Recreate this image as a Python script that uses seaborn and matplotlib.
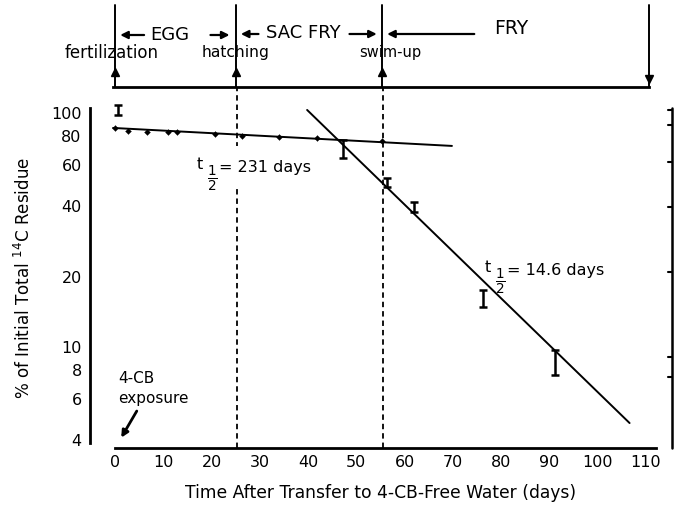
import numpy as np
import pandas as pd
import matplotlib
matplotlib.use("Agg")
import matplotlib.pyplot as plt
import seaborn as sns

# ---------------- data ----------------
# error-bar measurements (day, mean %, lower, upper)
eb_days = [0.6, 47.2, 56.3, 61.9, 76.2, 91.1]
eb_mean = [103, 70, 50.5, 39.6, 16.1, 8.6]
eb_low = [98, 64.2, 48.3, 37.7, 14.8, 7.6]
eb_high = [108, 76.7, 52.8, 41.7, 17.5, 9.7]

# small dots along slow phase
dot_days = [0, 2.7, 6.6, 11.0, 12.8, 20.7, 26.3, 33.9, 41.8, 55.3]
dot_vals = [86, 84, 83, 83, 83, 81, 80, 79, 78, 76]

# fitted lines (endpoints)
slow_days = [-0.4, 69.8]
slow_vals = [86.3, 72.3]
fast_days = [39.8, 106.6]
fast_vals = [103, 4.73]

xticks = [0, 10, 20, 30, 40, 50, 60, 70, 80, 90, 100, 110]
yticks = [4, 6, 8, 10, 20, 40, 60, 80, 100]

# life-stage timeline
event_days = [0, 25, 55.3, 110.7]
event_labels = ["fertilization", "hatching", "swim-up", ""]
stage_labels = ["EGG", "SAC FRY", "FRY"]

# ---------------- figure ----------------
sns.set_theme(style="white")
plt.rcParams["font.family"] = ["DejaVu Sans"]
plt.rcParams["mathtext.fontset"] = "dejavusans"
plt.rcParams["text.color"] = "black"

W, H = 674, 507
fig = plt.figure(figsize=(W / 100, H / 100), dpi=100)

def fx(px):
    return px / W

def fy(py):
    return 1 - py / H

# main axes: x 0..110 -> px 115..646 ; y px 108..448
ax = fig.add_axes([fx(115), fy(448), fx(646 - 115), (448 - 108) / H])
ax.set_yscale("log")
ax.set_xlim(0, 110)
ax.set_ylim(3.70, 105)

df_lines = pd.DataFrame({
    "day": slow_days + fast_days,
    "val": slow_vals + fast_vals,
    "phase": ["slow"] * 2 + ["fast"] * 2,
})
sns.lineplot(data=df_lines, x="day", y="val", units="phase", estimator=None,
             color="black", lw=1.4, ax=ax, legend=False, clip_on=False)

sns.scatterplot(x=dot_days, y=dot_vals, marker="D", s=9, color="black",
                edgecolor="black", ax=ax, zorder=5, clip_on=False)

yerr = [np.array(eb_mean) - np.array(eb_low), np.array(eb_high) - np.array(eb_mean)]
ax.errorbar(eb_days, eb_mean, yerr=yerr, fmt="none", ecolor="black",
            elinewidth=1.8, capsize=3.2, capthick=1.8, clip_on=False, zorder=6)

# dashed stage lines
for d in event_days[1:3]:
    ax.vlines(d + 0.3, 3.70, 128, colors="black", linestyles=(0, (3.0, 2.2)),
              lw=1.3, clip_on=False, zorder=1)

# spines/ticks
for s in ["top", "right"]:
    ax.spines[s].set_visible(False)
ax.spines["left"].set_position(("outward", 18))
ax.spines["left"].set_bounds(3.9, 105)
ax.spines["bottom"].set_bounds(0, 112)
for s in ["left", "bottom"]:
    ax.spines[s].set_linewidth(2.0)
    ax.spines[s].set_color("black")
ax.set_xticks(xticks)
ax.set_xticklabels([str(t) for t in xticks])
ax.set_yticks(yticks)
ax.set_yticklabels([str(t) for t in yticks])
ax.yaxis.set_minor_locator(matplotlib.ticker.NullLocator())
ax.tick_params(axis="x", direction="in", length=4, width=1.5, labelsize=11.5,
               pad=5, colors="black")
ax.tick_params(axis="y", direction="out", length=3, width=1.5, labelsize=11.5,
               pad=3, colors="black")
ax.set_xlabel("Time After Transfer to 4-CB-Free Water (days)", fontsize=12.3,
              labelpad=10, color="black")
ax.set_ylabel(r"% of Initial Total $^{14}$C Residue", fontsize=12.1,
              labelpad=12, color="black")


# half-life labels built as t + stacked 1/2 + text
def half_life(x, y, rest, white=False):
    bb = dict(facecolor="white", edgecolor="none", pad=10) if white else None
    ax.annotate(rest, xy=(x, y), xytext=(16, 0), textcoords="offset points",
                fontsize=11.5, ha="left", va="center", color="black",
                bbox=bb, zorder=3, annotation_clip=False)
    ax.annotate("t", xy=(x, y), xytext=(0, 2), textcoords="offset points",
                fontsize=11.5, ha="left", va="center", color="black", zorder=4)
    ax.annotate(r"$\frac{1}{2}$", xy=(x, y), xytext=(7.5, -8),
                textcoords="offset points", fontsize=14, ha="left",
                va="center", color="black", zorder=4)


half_life(17.0, 58.5, "= 231 days", white=True)
half_life(76.5, 21.2, "= 14.6 days")

# 4-CB exposure
ax.text(0.6, 7.36, "4-CB", fontsize=11, ha="left", va="center", color="black")
ax.text(0.6, 6.05, "exposure", fontsize=11, ha="left", va="center", color="black")
ax.annotate("", xy=(1.0, 4.0), xytext=(4.8, 5.45),
            arrowprops=dict(arrowstyle="-|>", color="black", lw=2.0,
                            mutation_scale=10), annotation_clip=False)

# ---------------- top timeline ----------------
axt = fig.add_axes([fx(115), fy(87), fx(646 - 115), 87 / H])
axt.set_xlim(0, 110)
axt.set_ylim(87, 0)
axt.patch.set_alpha(0)
for s in ["top", "right", "left"]:
    axt.spines[s].set_visible(False)
axt.spines["bottom"].set_bounds(-0.4, 110.7)
axt.spines["bottom"].set_linewidth(2.0)
axt.spines["bottom"].set_color("black")
axt.set_xticks(xticks)
axt.set_xticklabels([])
axt.set_yticks([])
axt.tick_params(axis="x", direction="out", length=5, width=1.3, colors="black")

label_sizes = [12, 11.2, 10.5]
label_shift = [-0.8, 0, 1.7]
for i, d in enumerate(event_days):
    axt.plot([d, d], [5, 87], color="black", lw=1.4, clip_on=False)
    if i < 3:
        axt.plot([d], [72], marker="^", ms=6, color="black", clip_on=False)
    else:
        axt.plot([d], [79], marker="v", ms=6, color="black", clip_on=False)
    if event_labels[i]:
        axt.text(d + label_shift[i], 53 if i < 2 else 52, event_labels[i],
                 fontsize=label_sizes[i], ha="center", va="center", color="black")

arrow_kw = dict(arrowstyle="-|>", color="black", lw=1.6, mutation_scale=11)
# EGG
axt.text(11.4, 35, stage_labels[0], fontsize=13, ha="center", va="center",
         color="black")
axt.annotate("", xy=(0.5, 35), xytext=(6.6, 35), arrowprops=arrow_kw)
axt.annotate("", xy=(24.3, 35), xytext=(19.2, 35), arrowprops=arrow_kw)
# SAC FRY
axt.text(39.0, 33, stage_labels[1], fontsize=13, ha="center", va="center",
         color="black")
axt.annotate("", xy=(25.5, 34), xytext=(30.3, 34), arrowprops=arrow_kw)
axt.annotate("", xy=(54.8, 34), xytext=(48.0, 34), arrowprops=arrow_kw)
# FRY
axt.text(82.0, 29, stage_labels[2], fontsize=13.5, ha="center", va="center",
         color="black")
axt.annotate("", xy=(55.8, 34), xytext=(75.0, 34), arrowprops=arrow_kw)
axt.annotate("", xy=(110.2, 34), xytext=(91.5, 34), arrowprops=arrow_kw)

# neighbouring panel fragment at right edge
fig.add_artist(plt.Line2D([fx(672), fx(672)], [fy(108), fy(448)],
                          color="black", lw=1.8))
for py in [110, 125, 162, 207, 272, 357, 377]:
    fig.add_artist(plt.Line2D([fx(668), fx(672)], [fy(py), fy(py)],
                              color="black", lw=1.5))

fig.savefig("out.png", dpi=100)
